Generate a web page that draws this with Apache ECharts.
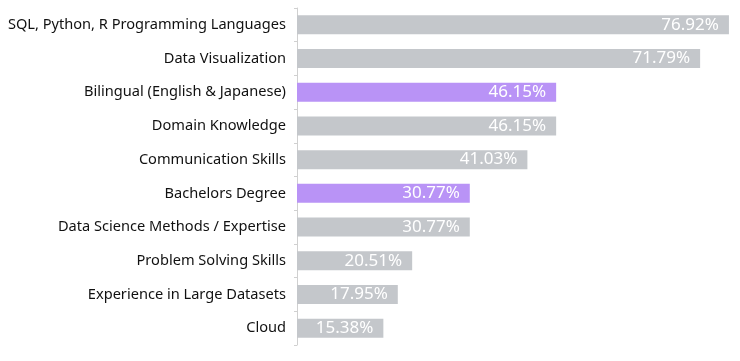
<!DOCTYPE html>
<html>
<head>
<meta charset="utf-8">
<script src="https://cdn.jsdelivr.net/npm/echarts@6/dist/echarts.min.js"></script>
<style>
html,body{margin:0;padding:0;background:#fff;}
#chart{width:740px;height:361px;}
</style>
</head>
<body>
<div id="chart"></div>
<script>
const categories = [
  "SQL, Python, R Programming Languages",
  "Data Visualization",
  "Bilingual (English & Japanese)",
  "Domain Knowledge",
  "Communication Skills",
  "Bachelors Degree",
  "Data Science Methods / Expertise",
  "Problem Solving Skills",
  "Experience in Large Datasets",
  "Cloud"
];
const values = [76.92, 71.79, 46.15, 46.15, 41.03, 30.77, 30.77, 20.51, 17.95, 15.38];
const highlighted = [false, false, true, false, false, true, false, false, false, false];

const GRAY = "#c4c7cb";
const PURPLE = "#b993f6";

const chart = echarts.init(document.getElementById("chart"), null, {renderer: "canvas"});
chart.setOption({
  animation: false,
  grid: {left: 297, right: 5, top: 8, bottom: 16, containLabel: false, outerBoundsMode: "none"},
  xAxis: {
    type: "value", min: 0, max: 78,
    show: false
  },
  yAxis: {
    type: "category",
    data: categories,
    inverse: true,
    offset: 2,
    axisLine: {show: true, lineStyle: {color: "#d0d0d0", width: 1}},
    axisTick: {show: true, length: 3, lineStyle: {color: "#d0d0d0"}},
    axisLabel: {
      margin: 9,
      color: "#111111",
      fontFamily: "Noto Sans",
      fontSize: 14.6
    }
  },
  series: [{
    type: "bar",
    barWidth: 19,
    data: values.map((v, i) => ({
      value: v,
      itemStyle: {color: highlighted[i] ? PURPLE : GRAY}
    })),
    label: {
      show: true,
      position: "insideRight",
      distance: 10,
      color: "#ffffff",
      fontFamily: "Noto Sans",
      fontSize: 17,
      formatter: p => p.value.toFixed(2) + "%"
    }
  }]
});
</script>
</body>
</html>
